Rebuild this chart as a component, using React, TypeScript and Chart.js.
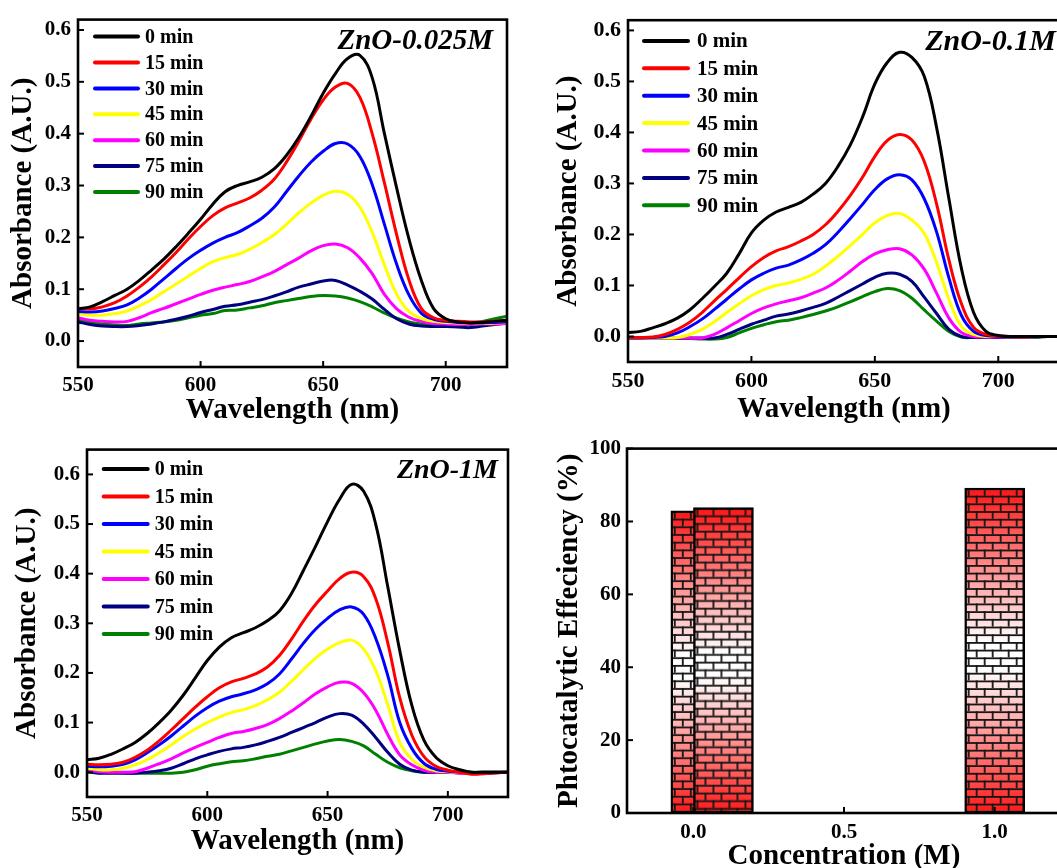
import React, { useEffect, useRef } from "react";
import { Chart, registerables } from "chart.js";

Chart.register(...registerables);

// ---------------- DATA ----------------
const wavelengths = [550, 555, 560, 565, 570, 575, 580, 585, 590, 595, 600, 605, 610, 615, 620, 625, 630, 635, 640, 645, 650, 655, 660, 665, 670, 675, 680, 685, 690, 695, 700, 705, 710, 715, 720, 725];
const timeLabels = ["0 min", "15 min", "30 min", "45 min", "60 min", "75 min", "90 min"];
const seriesColors = ["#000000", "#ff0000", "#0000ff", "#ffff00", "#ff00ff", "#000080", "#008000"];
const wavelengthTicks = [550, 600, 650, 700];
const absorbanceTicks = [0, 0.1, 0.2, 0.3, 0.4, 0.5, 0.6];

// ZnO-0.025M
const a025_0 = [0.062, 0.066, 0.076, 0.088, 0.100, 0.117, 0.137, 0.158, 0.182, 0.208, 0.235, 0.264, 0.288, 0.300, 0.307, 0.316, 0.332, 0.358, 0.392, 0.433, 0.478, 0.516, 0.545, 0.551, 0.508, 0.400, 0.295, 0.197, 0.118, 0.063, 0.043, 0.037, 0.035, 0.036, 0.038, 0.040];
const a025_15 = [0.063, 0.062, 0.066, 0.074, 0.087, 0.104, 0.124, 0.147, 0.171, 0.197, 0.221, 0.242, 0.257, 0.266, 0.276, 0.291, 0.312, 0.345, 0.385, 0.428, 0.465, 0.490, 0.497, 0.470, 0.400, 0.305, 0.205, 0.118, 0.063, 0.045, 0.040, 0.038, 0.037, 0.037, 0.038, 0.040];
const a025_30 = [0.057, 0.056, 0.058, 0.063, 0.070, 0.083, 0.100, 0.120, 0.140, 0.159, 0.175, 0.189, 0.200, 0.209, 0.222, 0.237, 0.258, 0.288, 0.318, 0.345, 0.366, 0.381, 0.380, 0.356, 0.302, 0.225, 0.148, 0.089, 0.054, 0.042, 0.038, 0.036, 0.035, 0.035, 0.036, 0.037];
const a025_45 = [0.052, 0.050, 0.050, 0.053, 0.058, 0.068, 0.080, 0.095, 0.110, 0.125, 0.140, 0.153, 0.161, 0.167, 0.177, 0.190, 0.205, 0.225, 0.247, 0.266, 0.281, 0.289, 0.283, 0.258, 0.210, 0.147, 0.090, 0.057, 0.044, 0.038, 0.036, 0.035, 0.034, 0.034, 0.035, 0.036];
const a025_60 = [0.045, 0.040, 0.038, 0.037, 0.038, 0.045, 0.055, 0.063, 0.072, 0.081, 0.090, 0.098, 0.104, 0.109, 0.115, 0.124, 0.134, 0.147, 0.160, 0.174, 0.184, 0.187, 0.180, 0.160, 0.130, 0.090, 0.062, 0.046, 0.038, 0.034, 0.033, 0.032, 0.032, 0.033, 0.033, 0.034];
const a025_75 = [0.037, 0.032, 0.029, 0.028, 0.028, 0.030, 0.033, 0.037, 0.042, 0.048, 0.055, 0.061, 0.067, 0.070, 0.075, 0.080, 0.087, 0.095, 0.104, 0.110, 0.116, 0.117, 0.108, 0.096, 0.081, 0.061, 0.043, 0.033, 0.029, 0.028, 0.028, 0.027, 0.026, 0.029, 0.032, 0.035];
const a025_90 = [0.042, 0.036, 0.033, 0.031, 0.030, 0.033, 0.035, 0.037, 0.040, 0.045, 0.050, 0.053, 0.059, 0.060, 0.064, 0.068, 0.074, 0.078, 0.082, 0.086, 0.088, 0.087, 0.083, 0.076, 0.066, 0.054, 0.044, 0.037, 0.033, 0.032, 0.032, 0.033, 0.035, 0.038, 0.043, 0.048];

// ZnO-0.1M
const b01_0 = [0.008, 0.010, 0.017, 0.025, 0.036, 0.052, 0.074, 0.098, 0.124, 0.162, 0.203, 0.228, 0.244, 0.253, 0.263, 0.279, 0.300, 0.333, 0.375, 0.430, 0.495, 0.537, 0.557, 0.547, 0.510, 0.410, 0.270, 0.135, 0.047, 0.010, 0.002, 0.000, 0.000, 0.000, 0.000, 0.000];
const b01_15 = [-0.002, -0.002, -0.001, 0.004, 0.014, 0.028, 0.047, 0.070, 0.092, 0.115, 0.137, 0.155, 0.168, 0.176, 0.187, 0.200, 0.219, 0.245, 0.276, 0.312, 0.353, 0.384, 0.396, 0.385, 0.343, 0.260, 0.150, 0.065, 0.018, 0.004, 0.001, 0.000, -0.001, 0.000, 0.000, 0.000];
const b01_30 = [-0.003, -0.003, -0.002, 0.000, 0.007, 0.019, 0.034, 0.053, 0.073, 0.093, 0.111, 0.124, 0.134, 0.140, 0.150, 0.163, 0.180, 0.204, 0.231, 0.259, 0.288, 0.309, 0.317, 0.307, 0.270, 0.205, 0.115, 0.042, 0.010, 0.002, 0.000, -0.001, -0.001, 0.000, 0.000, 0.000];
const b01_45 = [-0.003, -0.003, -0.003, -0.003, -0.002, 0.004, 0.014, 0.029, 0.047, 0.064, 0.080, 0.092, 0.100, 0.105, 0.112, 0.122, 0.138, 0.157, 0.178, 0.200, 0.223, 0.237, 0.241, 0.228, 0.202, 0.145, 0.073, 0.020, 0.004, 0.000, 0.000, -0.001, -0.001, 0.000, 0.000, 0.000];
const b01_60 = [-0.003, -0.003, -0.003, -0.003, -0.003, -0.003, -0.003, 0.004, 0.017, 0.031, 0.045, 0.056, 0.064, 0.070, 0.076, 0.085, 0.095, 0.110, 0.128, 0.147, 0.162, 0.170, 0.172, 0.160, 0.132, 0.085, 0.036, 0.008, 0.000, -0.001, -0.001, -0.001, -0.001, 0.000, 0.000, 0.000];
const b01_75 = [-0.003, -0.003, -0.003, -0.003, -0.003, -0.003, -0.003, -0.003, 0.004, 0.014, 0.024, 0.032, 0.040, 0.044, 0.050, 0.057, 0.065, 0.077, 0.090, 0.103, 0.116, 0.124, 0.122, 0.108, 0.077, 0.045, 0.014, 0.000, -0.002, -0.002, -0.002, -0.002, -0.001, -0.001, 0.000, 0.000];
const b01_90 = [-0.003, -0.003, -0.003, -0.004, -0.004, -0.004, -0.005, -0.005, -0.002, 0.007, 0.016, 0.023, 0.029, 0.032, 0.037, 0.043, 0.050, 0.058, 0.068, 0.078, 0.088, 0.094, 0.090, 0.075, 0.052, 0.030, 0.010, -0.001, -0.002, -0.002, -0.002, -0.002, -0.001, -0.001, 0.000, 0.000];

// ZnO-1M
const c1_0 = [0.025, 0.028, 0.036, 0.047, 0.060, 0.078, 0.100, 0.125, 0.155, 0.190, 0.225, 0.252, 0.271, 0.281, 0.291, 0.305, 0.325, 0.360, 0.407, 0.455, 0.505, 0.550, 0.580, 0.566, 0.500, 0.374, 0.245, 0.135, 0.065, 0.030, 0.013, 0.005, 0.000, 0.000, 0.000, 0.000];
const c1_15 = [0.016, 0.015, 0.016, 0.020, 0.030, 0.044, 0.063, 0.085, 0.108, 0.131, 0.152, 0.170, 0.182, 0.189, 0.198, 0.212, 0.235, 0.268, 0.305, 0.338, 0.365, 0.390, 0.403, 0.394, 0.350, 0.261, 0.150, 0.075, 0.032, 0.012, 0.004, 0.000, -0.004, -0.003, -0.001, 0.000];
const c1_30 = [0.012, 0.011, 0.012, 0.016, 0.025, 0.039, 0.055, 0.073, 0.093, 0.113, 0.130, 0.143, 0.152, 0.158, 0.166, 0.178, 0.198, 0.228, 0.260, 0.288, 0.310, 0.327, 0.333, 0.318, 0.270, 0.195, 0.100, 0.048, 0.018, 0.006, 0.002, 0.000, -0.002, -0.002, -0.001, 0.000];
const c1_45 = [0.008, 0.005, 0.005, 0.008, 0.015, 0.025, 0.039, 0.055, 0.072, 0.087, 0.100, 0.111, 0.120, 0.126, 0.134, 0.146, 0.161, 0.183, 0.207, 0.230, 0.248, 0.261, 0.266, 0.248, 0.205, 0.136, 0.060, 0.026, 0.010, 0.003, 0.001, 0.000, -0.002, -0.002, -0.001, 0.000];
const c1_60 = [0.004, 0.001, 0.000, 0.000, 0.001, 0.008, 0.017, 0.027, 0.039, 0.050, 0.060, 0.070, 0.078, 0.082, 0.088, 0.096, 0.108, 0.123, 0.140, 0.158, 0.172, 0.181, 0.179, 0.160, 0.125, 0.076, 0.035, 0.015, 0.004, 0.000, 0.000, -0.002, -0.003, -0.002, -0.001, 0.000];
const c1_75 = [0.002, -0.002, -0.002, -0.002, -0.002, 0.000, 0.003, 0.008, 0.017, 0.027, 0.035, 0.042, 0.047, 0.050, 0.055, 0.062, 0.070, 0.080, 0.090, 0.100, 0.111, 0.118, 0.115, 0.097, 0.070, 0.040, 0.016, 0.004, 0.000, 0.000, 0.000, -0.001, -0.001, 0.000, 0.000, 0.000];
const c1_90 = [0.000, -0.001, 0.000, -0.001, -0.002, -0.002, -0.002, -0.002, 0.000, 0.005, 0.012, 0.017, 0.021, 0.023, 0.027, 0.032, 0.036, 0.043, 0.050, 0.057, 0.063, 0.066, 0.062, 0.053, 0.036, 0.020, 0.009, 0.003, 0.000, 0.000, 0.000, 0.000, 0.000, 0.000, 0.000, 0.000];

// Photocatalytic efficiency
const concentrations = [0.025, 0.1, 1.0];
const efficiencies = [82.9, 83.8, 89.2];
const concentrationTicks = [0, 0.5, 1.0];
const efficiencyTicks = [0, 20, 40, 60, 80, 100];

// ---------------- STYLE ----------------
const FAMILY = "'Liberation Serif', 'Times New Roman', serif";
const tickFont = (size: number) => ({ family: FAMILY, size, weight: "bold" as const });
const axisTitleFont = { family: FAMILY, size: 29, weight: "bold" as const, lineHeight: 1.2 };
const BAR_PX = 60;

// ---------------- PLUGINS ----------------
const framePlugin = {
  id: "frameTicks",
  afterDatasetsDraw(chart: any) {
    const { ctx, chartArea: a, scales } = chart;
    ctx.save();
    ctx.strokeStyle = "#000";
    ctx.lineWidth = 2;
    ctx.lineCap = "butt";
    const xs = scales.x;
    const ys = scales.y;
    xs.ticks.forEach((t: any) => {
      const p = xs.getPixelForValue(t.value);
      ctx.beginPath();
      ctx.moveTo(p, a.bottom);
      ctx.lineTo(p, a.bottom - 6);
      ctx.stroke();
    });
    ys.ticks.forEach((t: any) => {
      const p = ys.getPixelForValue(t.value);
      ctx.beginPath();
      ctx.moveTo(a.left, p);
      ctx.lineTo(a.left + 6, p);
      ctx.stroke();
    });
    ctx.lineWidth = 2.6;
    ctx.strokeRect(a.left, a.top, a.right - a.left, a.bottom - a.top);
    ctx.restore();
  },
};

const legendPlugin = {
  id: "lineLegend",
  afterDraw(chart: any, _args: any, o: any) {
    if (!o || !o.show) return;
    const { ctx, chartArea: a } = chart;
    ctx.save();
    ctx.font = `bold ${o.size}px ${FAMILY}`;
    ctx.textBaseline = "middle";
    ctx.textAlign = "left";
    chart.data.datasets.forEach((ds: any, i: number) => {
      const y = a.top + o.top + i * o.spacing;
      const x0 = a.left + o.left;
      ctx.strokeStyle = ds.borderColor;
      ctx.lineWidth = 4;
      ctx.lineCap = "round";
      ctx.beginPath();
      ctx.moveTo(x0, y);
      ctx.lineTo(x0 + o.len, y);
      ctx.stroke();
      ctx.fillStyle = "#000";
      ctx.fillText(ds.label, x0 + o.len + o.gap, y + 1);
    });
    ctx.restore();
  },
};

const titlePlugin = {
  id: "panelTitle",
  afterDraw(chart: any, _args: any, o: any) {
    if (!o || !o.text) return;
    const { ctx, chartArea: a } = chart;
    ctx.save();
    ctx.font = `italic bold ${o.size}px ${FAMILY}`;
    ctx.fillStyle = "#000";
    ctx.textAlign = "right";
    ctx.textBaseline = "alphabetic";
    ctx.fillText(o.text, a.right - o.right, a.top + o.baseline);
    ctx.restore();
  },
};

function brickFill(context: any) {
  const chart = context.chart;
  const xs = chart.scales && chart.scales.x;
  const ys = chart.scales && chart.scales.y;
  if (context.type !== "data" || !xs || !ys || !context.raw) return "#ff3030";
  const top = ys.getPixelForValue(context.raw.y);
  const bottom = ys.getPixelForValue(0);
  const center = xs.getPixelForValue(context.raw.x);
  if (![top, bottom, center].every((v) => Number.isFinite(v)) || bottom - top < 2) return "#ff3030";
  const left = center - BAR_PX / 2;
  const h = Math.ceil(bottom - top) + 2;
  const brickW = 16;
  const rowH = 7.7;
  const mortar = 1.8;
  const off = document.createElement("canvas");
  off.width = brickW;
  off.height = h;
  const c = off.getContext("2d") as CanvasRenderingContext2D;
  const g = c.createLinearGradient(0, 0, 0, h);
  g.addColorStop(0, "#ff1414");
  g.addColorStop(0.47, "#ffffff");
  g.addColorStop(0.55, "#ffffff");
  g.addColorStop(1, "#ff1414");
  c.fillStyle = g;
  c.fillRect(0, 0, brickW, h);
  c.fillStyle = "#161616";
  let r = 0;
  for (let y = 0; y < h; y += rowH, r++) {
    c.fillRect(0, y, brickW, mortar);
    const vx = r % 2 === 0 ? 3 : 3 + brickW / 2;
    c.fillRect(vx, y, mortar, rowH);
  }
  const pat = chart.ctx.createPattern(off, "repeat");
  if (!pat) return "#ff3030";
  try {
    pat.setTransform(new DOMMatrix([1, 0, 0, 1, left, top]));
  } catch (e) {
    /* ignore */
  }
  return pat;
}

// ---------------- CONFIG BUILDERS ----------------
function lineConfig(p: any) {
  return {
    type: "line",
    data: {
      datasets: p.series.map((s: number[], i: number) => ({
        label: timeLabels[i],
        data: wavelengths.map((w, j) => ({ x: w, y: s[j] })),
        borderColor: seriesColors[i],
        backgroundColor: seriesColors[i],
        borderWidth: 3,
        pointRadius: 0,
        tension: 0.4,
        fill: false,
      })),
    },
    options: {
      responsive: false,
      animation: false,
      events: [],
      layout: { padding: p.padding, autoPadding: false },
      plugins: {
        legend: { display: false },
        tooltip: { enabled: false },
        lineLegend: { show: true, ...p.legend },
        panelTitle: p.title,
      },
      scales: {
        x: {
          type: "linear",
          min: 550,
          max: 725,
          grid: { display: false, drawTicks: false },
          border: { display: false },
          afterBuildTicks: (s: any) => {
            s.ticks = wavelengthTicks.map((v) => ({ value: v }));
          },
          afterFit: (s: any) => {
            s.height = p.xH;
          },
          ticks: {
            font: tickFont(p.tickSize),
            color: "#000",
            padding: p.xTickPad,
            maxRotation: 0,
            autoSkip: false,
            callback: (v: any) => String(v),
          },
          title: {
            display: true,
            text: "Wavelength (nm)",
            font: axisTitleFont,
            color: "#000",
            padding: { top: 0, bottom: p.xTitlePad },
          },
        },
        y: {
          type: "linear",
          min: -0.05,
          max: p.yMax,
          grid: { display: false, drawTicks: false },
          border: { display: false },
          afterBuildTicks: (s: any) => {
            s.ticks = absorbanceTicks.map((v) => ({ value: v }));
          },
          afterFit: (s: any) => {
            s.width = p.yW;
          },
          ticks: {
            font: tickFont(p.tickSize),
            color: "#000",
            padding: 7,
            autoSkip: false,
            callback: (v: any) => Number(v).toFixed(1),
          },
          title: {
            display: true,
            text: "Absorbance (A.U.)",
            font: axisTitleFont,
            color: "#000",
            padding: { top: p.yTitlePad, bottom: 0 },
          },
        },
      },
    },
    plugins: [framePlugin, legendPlugin, titlePlugin],
  };
}

function barConfig(p: any) {
  return {
    type: "bar",
    data: {
      datasets: [
        {
          label: "Phtocatalytic Effeciency",
          data: concentrations.map((c, i) => ({ x: c, y: efficiencies[i] })),
          backgroundColor: brickFill,
          borderColor: "#000",
          borderWidth: 2.5,
          borderSkipped: false,
          barThickness: BAR_PX,
        },
      ],
    },
    options: {
      responsive: false,
      animation: false,
      events: [],
      layout: { padding: p.padding, autoPadding: false },
      plugins: { legend: { display: false }, tooltip: { enabled: false } },
      scales: {
        x: {
          type: "linear",
          min: -0.22,
          max: 1.22,
          offset: false,
          grid: { display: false, drawTicks: false, offset: false },
          border: { display: false },
          afterBuildTicks: (s: any) => {
            s.ticks = concentrationTicks.map((v) => ({ value: v }));
          },
          afterFit: (s: any) => {
            s.height = p.xH;
          },
          ticks: {
            font: tickFont(p.tickSize),
            color: "#000",
            padding: p.xTickPad,
            maxRotation: 0,
            autoSkip: false,
            callback: (v: any) => Number(v).toFixed(1),
          },
          title: {
            display: true,
            text: "Concentration (M)",
            font: axisTitleFont,
            color: "#000",
            padding: { top: 0, bottom: p.xTitlePad },
          },
        },
        y: {
          type: "linear",
          min: 0,
          max: 100,
          grid: { display: false, drawTicks: false },
          border: { display: false },
          afterBuildTicks: (s: any) => {
            s.ticks = efficiencyTicks.map((v) => ({ value: v }));
          },
          afterFit: (s: any) => {
            s.width = p.yW;
          },
          ticks: {
            font: tickFont(p.tickSize),
            color: "#000",
            padding: 6,
            autoSkip: false,
            callback: (v: any) => String(v),
          },
          title: {
            display: true,
            text: "Phtocatalytic Effeciency (%)",
            font: axisTitleFont,
            color: "#000",
            padding: { top: p.yTitlePad, bottom: 0 },
          },
        },
      },
    },
    plugins: [framePlugin],
  };
}

// ---------------- PANELS ----------------
const panels = [
  {
    key: "p1",
    rect: { left: 0, top: 0, width: 520, height: 440 },
    build: () =>
      lineConfig({
        series: [a025_0, a025_15, a025_30, a025_45, a025_60, a025_75, a025_90],
        padding: { left: 0, top: 15, right: 13, bottom: 0 },
        yW: 78,
        xH: 73,
        yMax: 0.62,
        tickSize: 21,
        xTickPad: 6,
        yTitlePad: 6,
        xTitlePad: 12,
        legend: { left: 17, top: 17, spacing: 25.9, size: 20, len: 43, gap: 7 },
        title: { text: "ZnO-0.025M", size: 29, right: 14, baseline: 29 },
      }),
  },
  {
    key: "p2",
    rect: { left: 540, top: 0, width: 540, height: 440 },
    build: () =>
      lineConfig({
        series: [b01_0, b01_15, b01_30, b01_45, b01_60, b01_75, b01_90],
        padding: { left: 0, top: 10, right: 20, bottom: 0 },
        yW: 88,
        xH: 78,
        yMax: 0.62,
        tickSize: 22,
        xTickPad: 6,
        yTitlePad: 11,
        xTitlePad: 13,
        legend: { left: 16, top: 20.7, spacing: 27.4, size: 21, len: 44, gap: 9 },
        title: { text: "ZnO-0.1M", size: 30, right: 4, baseline: 30 },
      }),
  },
  {
    key: "p3",
    rect: { left: 0, top: 430, width: 520, height: 438 },
    build: () =>
      lineConfig({
        series: [c1_0, c1_15, c1_30, c1_45, c1_60, c1_75, c1_90],
        padding: { left: 0, top: 14, right: 12, bottom: 0 },
        yW: 87,
        xH: 71,
        yMax: 0.65,
        tickSize: 21,
        xTickPad: 6,
        yTitlePad: 10,
        xTitlePad: 9,
        legend: { left: 16.7, top: 19.3, spacing: 27.5, size: 20, len: 44, gap: 7 },
        title: { text: "ZnO-1M", size: 28, right: 10, baseline: 28 },
      }),
  },
  {
    key: "p4",
    rect: { left: 540, top: 430, width: 540, height: 450 },
    build: () =>
      barConfig({
        padding: { left: 0, top: 13, right: 19, bottom: 0 },
        yW: 87,
        xH: 67,
        tickSize: 21,
        xTickPad: 7,
        yTitlePad: 12,
        xTitlePad: 6,
      }),
  },
];

function ChartPanel({ rect, build }: any) {
  const ref = useRef<HTMLCanvasElement | null>(null);
  useEffect(() => {
    if (!ref.current) return;
    const chart = new Chart(ref.current, build() as any);
    return () => chart.destroy();
  }, []);
  return (
    <canvas
      ref={ref}
      width={rect.width}
      height={rect.height}
      style={{
        position: "absolute",
        left: rect.left,
        top: rect.top,
        width: rect.width,
        height: rect.height,
      }}
    />
  );
}

export default function App() {
  return (
    <div
      style={{
        position: "fixed",
        left: 0,
        top: 0,
        width: 1057,
        height: 868,
        overflow: "hidden",
        background: "#ffffff",
      }}
    >
      {panels.map((p) => (
        <ChartPanel key={p.key} rect={p.rect} build={p.build} />
      ))}
    </div>
  );
}
